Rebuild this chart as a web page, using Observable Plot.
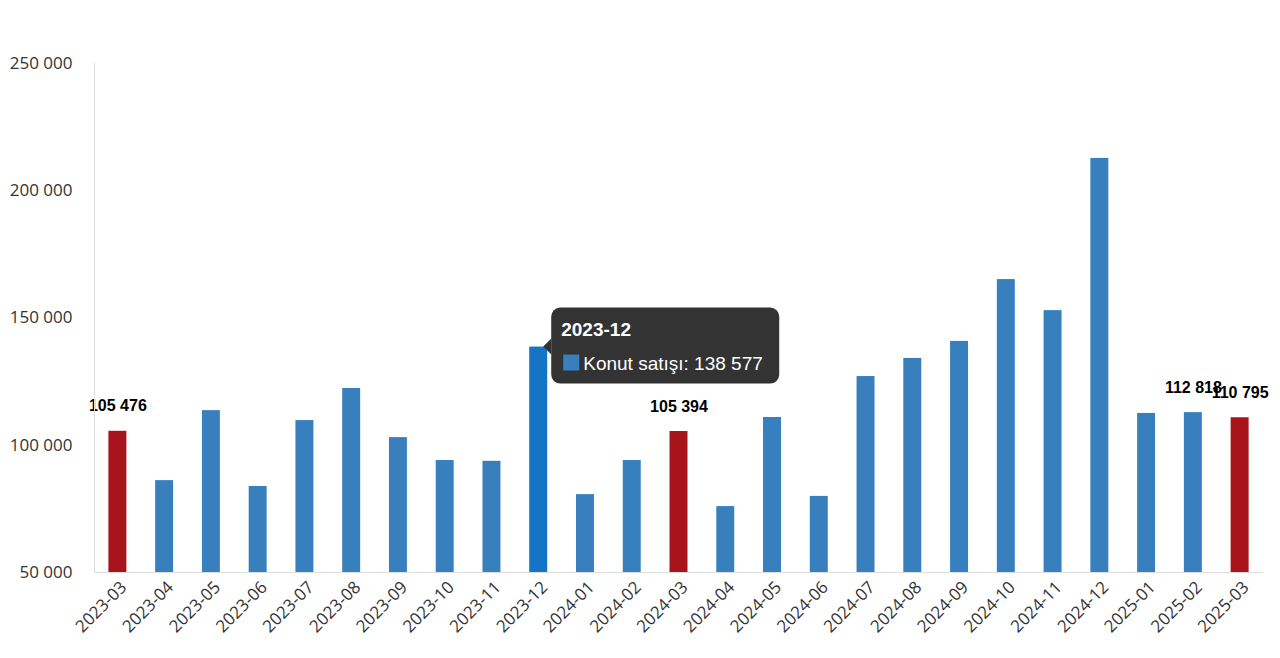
<!DOCTYPE html>
<html><head><meta charset="utf-8">
<script src="https://cdn.jsdelivr.net/npm/d3@7"></script>
<script src="https://cdn.jsdelivr.net/npm/@observablehq/plot@0.6"></script>
<style>
html,body{margin:0;padding:0;background:#fff;}
#chart{position:relative;width:1280px;height:658px;}
</style></head>
<body><div id="chart"></div>
<script>
const months = ["2023-03","2023-04","2023-05","2023-06","2023-07","2023-08","2023-09","2023-10","2023-11","2023-12","2024-01","2024-02","2024-03","2024-04","2024-05","2024-06","2024-07","2024-08","2024-09","2024-10","2024-11","2024-12","2025-01","2025-02","2025-03"];
const sales = [105476,86100,113600,83800,109700,122300,103000,94000,93700,138577,80600,94000,105394,75900,110900,79900,127000,134100,140800,165100,152900,212700,112500,112818,110795];
const highlighted = ["2023-03","2024-03","2025-03"];
const labelled = ["2023-03","2024-03","2025-02","2025-03"];
const hovered = "2023-12";
const yTicks = [50000,100000,150000,200000,250000];
const seriesName = "Konut satışı";

const data = months.map((m,i)=>({month:m, value:sales[i],
  kind: m===hovered ? "hover" : highlighted.includes(m) ? "red" : "blue"}));
const fmt = v => d3.format(",")(v).replace(/,/g," ");

const plot = Plot.plot({
  width:1280, height:658,
  marginLeft:94, marginRight:17, marginTop:63, marginBottom:86,
  style:{fontFamily:"'Open Sans', sans-serif", background:"#fff"},
  x:{domain:months, padding:0, round:false, label:null},
  y:{domain:[50000,250000], label:null},
  color:{domain:["blue","red","hover"], range:["#3780bd","#a8141c","#1474c6"]},
  marks:[
    Plot.barY(data,{x:"month", y1:50000, y2:"value", fill:"kind", insetLeft:14.4, insetRight:14.4}),
    Plot.axisY({ticks:yTicks, tickSize:0, tickPadding:22, tickFormat:fmt, fontSize:17, fill:"#333", label:null}),
    Plot.axisX({tickSize:0, tickRotate:-45, tickPadding:12, dx:6, fontSize:17, fill:"#333", label:null}),
    Plot.ruleY([50000],{stroke:"#ddd"}),
    Plot.text(data.filter(d=>labelled.includes(d.month)),{x:"month", y:"value", text:d=>fmt(d.value), dy:-25, fontFamily:"Arial, 'Liberation Sans', sans-serif", fontWeight:"bold", fontSize:16, fill:"#000"})
  ]
});
document.getElementById("chart").appendChild(plot);

const svg = d3.select(plot);
// vertical axis line at left edge of plot area
svg.append("line").attr("x1",94.5).attr("x2",94.5).attr("y1",63).attr("y2",572).attr("stroke","#ddd");

// tooltip for hovered bar
const xs = plot.scale("x"), ys = plot.scale("y");
const hv = data.find(d=>d.month===hovered);
const ax = xs.apply(hovered) + xs.bandwidth / 2 + 5;
const ay = ys.apply(hv.value);
const g = svg.append("g").attr("font-family","Arial, 'Liberation Sans', sans-serif").attr("text-anchor","start");
const bx = ax + 8, by = ay - 39, bw = 228, bh = 76;
g.append("path").attr("d",`M${bx},${ay-8} L${ax},${ay} L${bx},${ay+8} Z`).attr("fill","#333");
g.append("rect").attr("x",bx).attr("y",by).attr("width",bw).attr("height",bh).attr("rx",9).attr("fill","#333");
g.append("text").attr("x",bx+10).attr("y",by+28).attr("fill","#fff").attr("font-weight","bold").attr("font-size",19).text(hovered);
g.append("rect").attr("x",bx+12).attr("y",by+47).attr("width",16).attr("height",16).attr("fill","#3780bd");
g.append("text").attr("x",bx+32).attr("y",by+62).attr("fill","#fff").attr("font-size",19).text(`${seriesName}: ${fmt(hv.value)}`);
</script></body></html>
